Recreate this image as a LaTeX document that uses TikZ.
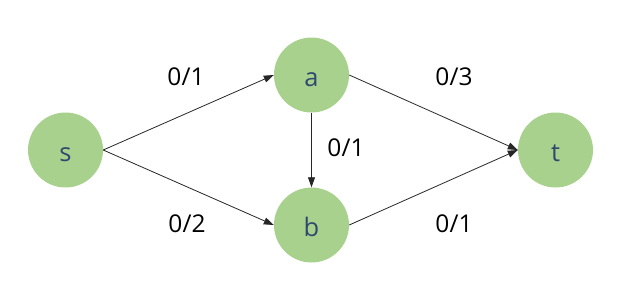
\documentclass[tikz,border=0pt]{standalone}
\usepackage{fontspec}
\setmainfont{Open Sans}
\usetikzlibrary{arrows.meta}
\definecolor{nodegreen}{RGB}{169,209,142}
\definecolor{nodetext}{RGB}{47,72,110}
\begin{document}
\begin{tikzpicture}[x=1pt,y=-1pt,
  vertex/.style={circle,fill=nodegreen,draw=none,minimum size=75pt,inner sep=0pt,
    text=nodetext,font=\fontsize{25.5}{30}\selectfont,text height=22pt,text depth=0pt},
  flowlabel/.style={font=\fontsize{24.5}{29}\selectfont,text=black,inner sep=0pt},
  edge/.style={draw=black!85,line width=0.8pt,-{Triangle[length=10pt,width=7pt]}}]
\useasboundingbox (0,0) rectangle (624,282);
\node[vertex] (s) at (65.5,150) {s};
\node[vertex] (a) at (311.5,75) {a};
\node[vertex] (b) at (311.5,225) {b};
\node[vertex] (t) at (555.5,150) {t};
\draw[edge] (s.east) -- (a.west);
\draw[edge] (s.east) -- (b.west);
\draw[edge] (a.south) -- (b.north);
\draw[edge] (a.east) -- (t.west);
\draw[edge] (b.east) -- (t.west);
\node[flowlabel] (l1) at (186,77) {0/1};
\node[flowlabel] (l2) at (187,224) {0/2};
\node[flowlabel] (l3) at (346,148) {0/1};
\node[flowlabel] (l4) at (454,77) {0/3};
\node[flowlabel] (l5) at (454,224) {0/1};
\end{tikzpicture}
\end{document}
